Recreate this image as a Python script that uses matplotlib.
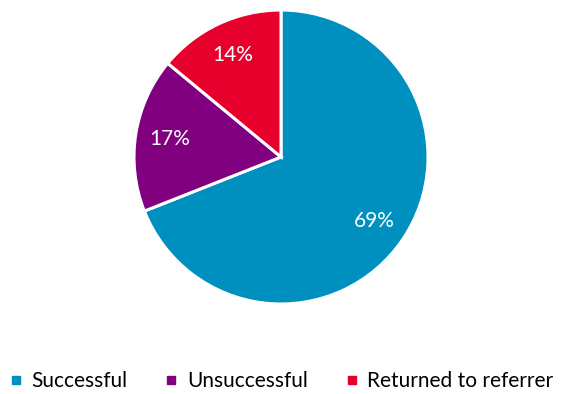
import matplotlib
matplotlib.use("Agg")
import matplotlib.pyplot as plt
from matplotlib.lines import Line2D

categories = ["Successful", "Unsuccessful", "Returned to referrer"]
values = [69, 17, 14]
colors = ["#0090C0", "#800080", "#E8002D"]

plt.rcParams['font.family'] = ['Lato', 'DejaVu Sans']

W, H = 562, 394
fig = plt.figure(figsize=(W / 100, H / 100), dpi=100)

cx, cy, r = 281, 157, 147
ax = fig.add_axes([(cx - r) / W, (H - cy - r) / H, 2 * r / W, 2 * r / H])
wedges, texts, autotexts = ax.pie(
    values, colors=colors, startangle=90, counterclock=False,
    autopct=lambda p: f"{p:.0f}%", pctdistance=0.77,
    wedgeprops=dict(edgecolor="white", linewidth=2.2),
    textprops=dict(color="white", fontsize=15),
    radius=1.0,
)
ax.set_xlim(-1, 1)
ax.set_ylim(-1, 1)
ax.set_aspect("equal")
ax.axis("off")

handles = [Line2D([0], [0], marker="s", linestyle="none", markersize=6,
                  markerfacecolor=c, markeredgecolor=c) for c in colors]
fig.legend(handles, categories, loc="center", bbox_to_anchor=(0.5, 1 - 381 / H),
           ncol=3, frameon=False, fontsize=15, handlelength=0.7,
           handletextpad=0.4, columnspacing=1.75)

fig.savefig("out.png", dpi=100, facecolor="white")
